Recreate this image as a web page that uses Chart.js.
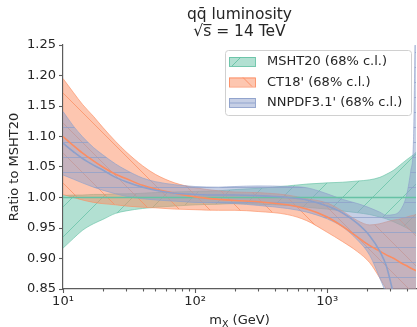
<!DOCTYPE html>
<html>
<head>
<meta charset="utf-8">
<script src="https://cdn.jsdelivr.net/npm/chart.js@4.4.0/dist/chart.umd.min.js"></script>
<style>
    html, body { margin: 0; padding: 0; background: #fff; }
    #wrap { width: 417px; height: 327px; }
</style>
</head>
<body>
<div id="wrap"><canvas id="lumiChart" width="417" height="327"></canvas></div>
<script>
// Invariant mass grid (GeV)
const masses = [10, 12, 14, 17, 20, 25, 30, 40, 50, 70, 100, 150, 200, 300, 500, 700,
    1000, 1300, 1700, 2100, 2500, 2800, 3200, 3600, 4000, 4300, 4500, 4700];

// MSHT20 (reference set)
const mshtCentral = masses.map(() => 1.0);
const mshtUpper = [1.003, 1.004, 1.004, 1.005, 1.005, 1.006, 1.006, 1.007, 1.008, 1.009, 1.010, 1.011, 1.013, 1.015,
    1.019, 1.022, 1.024, 1.025, 1.027, 1.029, 1.033, 1.038, 1.045, 1.054, 1.062, 1.067, 1.070, 1.074];
const mshtLower = [0.917, 0.933, 0.946, 0.957, 0.964, 0.974, 0.978, 0.982, 0.984, 0.986, 0.988, 0.989, 0.990, 0.989,
    0.987, 0.984, 0.981, 0.978, 0.975, 0.972, 0.968, 0.965, 0.960, 0.955, 0.950, 0.946, 0.943, 0.940];

// CT18'
const ct18Central = [1.100, 1.085, 1.073, 1.060, 1.050, 1.038, 1.031, 1.020, 1.014, 1.007, 1.001, 0.997, 0.995, 0.993,
    0.988, 0.981, 0.968, 0.953, 0.935, 0.921, 0.912, 0.906, 0.900, 0.893, 0.888, 0.884, 0.882, 0.880];
const ct18Upper = [1.195, 1.172, 1.153, 1.133, 1.115, 1.092, 1.075, 1.052, 1.038, 1.024, 1.016, 1.011, 1.009, 1.008,
    1.004, 0.998, 0.991, 0.978, 0.962, 0.955, 0.957, 0.960, 0.963, 0.965, 0.968, 0.970, 0.971, 0.972];
const ct18Lower = [1.005, 1.000, 0.996, 0.992, 0.990, 0.988, 0.986, 0.984, 0.983, 0.981, 0.980, 0.979, 0.979, 0.977,
    0.972, 0.962, 0.943, 0.928, 0.911, 0.893, 0.868, 0.850, 0.828, 0.812, 0.800, 0.792, 0.788, 0.785];

// NNPDF3.1'
const nnpdfCentral = [1.089, 1.075, 1.064, 1.053, 1.045, 1.033, 1.026, 1.017, 1.012, 1.007, 1.005, 1.004, 1.004, 1.003,
    1.000, 0.996, 0.986, 0.975, 0.957, 0.937, 0.912, 0.888, 0.838, 0.790, 0.750, 0.720, 0.705, 0.690];
const nnpdfUpper = [1.141, 1.117, 1.100, 1.082, 1.070, 1.055, 1.045, 1.032, 1.026, 1.021, 1.018, 1.017, 1.018, 1.019,
    1.018, 1.016, 1.006, 0.997, 0.990, 0.983, 0.976, 0.971, 0.972, 0.980, 1.005, 1.045, 1.095, 1.400];
const nnpdfLower = [1.037, 1.030, 1.024, 1.017, 1.012, 1.006, 1.002, 0.998, 0.996, 0.994, 0.992, 0.991, 0.990, 0.987,
    0.982, 0.976, 0.965, 0.952, 0.930, 0.905, 0.868, 0.840, 0.790, 0.740, 0.690, 0.650, 0.620, 0.580];

const seriesLabels = ["MSHT20 (68% c.l.)", "CT18' (68% c.l.)", "NNPDF3.1' (68% c.l.)"];
const yTickStep = 0.05;
const supDigits = { 1: '\u00b9', 2: '\u00b2', 3: '\u00b3', 4: '\u2074' };

const FONT = '"DejaVu Sans", sans-serif';
const TEXT = '#262626';
const AXIS = '#5c5c5c';

// Set2 colours
const green = [102, 194, 165];
const orange = [252, 141, 98];
const blue = [141, 160, 203];
const rgba = (c, a) => `rgba(${c[0]}, ${c[1]}, ${c[2]}, ${a})`;

// hatch pattern: translucent fill + hatch lines, like matplotlib hatch
function makeHatch(col, kind) {
    const size = kind === '-' ? 15 : 30;
    const c = document.createElement('canvas');
    c.width = size; c.height = size;
    const g = c.getContext('2d');
    g.fillStyle = rgba(col, 0.5);
    g.fillRect(0, 0, size, size);
    g.strokeStyle = rgba(col, 0.75);
    g.lineWidth = 1;
    g.beginPath();
    if (kind === '/') {
        g.moveTo(0, size); g.lineTo(size, 0);
        g.moveTo(-2, 2); g.lineTo(2, -2);
        g.moveTo(size - 2, size + 2); g.lineTo(size + 2, size - 2);
    } else if (kind === '\\') {
        g.moveTo(0, 0); g.lineTo(size, size);
        g.moveTo(size - 2, -2); g.lineTo(size + 2, 2);
        g.moveTo(-2, size - 2); g.lineTo(2, size + 2);
    } else {
        g.moveTo(0, size / 2); g.lineTo(size, size / 2);
    }
    g.stroke();
    return g.createPattern(c, 'repeat');
}

const pts = (arr) => masses.map((m, i) => ({ x: m, y: arr[i] }));

function bandPair(upper, lower, col, kind, order) {
    const edge = rgba(col, 0.8);
    return [
        {
            data: pts(upper), borderColor: edge, borderWidth: 0.8, pointRadius: 0,
            fill: '+1', backgroundColor: makeHatch(col, kind), order: order,
            cubicInterpolationMode: 'monotone'
        },
        {
            data: pts(lower), borderColor: edge, borderWidth: 0.8, pointRadius: 0,
            fill: false, order: order, cubicInterpolationMode: 'monotone'
        }
    ];
}

function centralLine(vals, col, order) {
    return {
        data: pts(vals), borderColor: rgba(col, 1), borderWidth: 1.6, pointRadius: 0,
        fill: false, order: order, cubicInterpolationMode: 'monotone'
    };
}

const datasets = [
    ...bandPair(mshtUpper, mshtLower, green, '/', 6),
    ...bandPair(ct18Upper, ct18Lower, orange, '\\', 5),
    ...bandPair(nnpdfUpper, nnpdfLower, blue, '-', 4),
    centralLine(mshtCentral, green, 3),
    centralLine(ct18Central, orange, 2),
    centralLine(nnpdfCentral, blue, 1)
];

// title, x tick marks, x label with subscript, legend box
const decorPlugin = {
    id: 'decor',
    afterDraw(chart) {
        const ctx = chart.ctx;
        const area = chart.chartArea;
        const xs = chart.scales.x;
        const cx = (area.left + area.right) / 2;
        ctx.save();

        // title
        ctx.fillStyle = TEXT;
        ctx.textAlign = 'center';
        ctx.textBaseline = 'alphabetic';
        ctx.font = '15.5px ' + FONT;
        ctx.fillText('qq\u0304 luminosity', cx, 19);
        ctx.fillText('\u221as\u0305 = 14 TeV', cx, 36);

        // x tick marks (major / minor)
        ctx.strokeStyle = AXIS;
        ctx.lineWidth = 1.1;
        xs.ticks.forEach(t => {
            const p = Math.floor(Math.log10(t.value) + 1e-9);
            const mant = t.value / Math.pow(10, p);
            if (Math.abs(mant - Math.round(mant)) > 1e-6) return;
            const px = Math.round(xs.getPixelForValue(t.value)) + 0.5;
            const len = Math.round(mant) === 1 ? 4 : 2.5;
            ctx.beginPath();
            ctx.moveTo(px, area.bottom);
            ctx.lineTo(px, area.bottom + len);
            ctx.stroke();
        });

        // x label: m_X (GeV)
        ctx.textAlign = 'left';
        const big = '13px ' + FONT, small = '9.5px ' + FONT;
        ctx.font = big; const wm = ctx.measureText('m').width;
        const wr = ctx.measureText(' (GeV)').width;
        ctx.font = small; const wx = ctx.measureText('X').width;
        let lx = cx - (wm + wx + wr) / 2;
        const by = 324;
        ctx.font = big; ctx.fillText('m', lx, by); lx += wm;
        ctx.font = small; ctx.fillText('X', lx, by + 2.5); lx += wx;
        ctx.font = big; ctx.fillText(' (GeV)', lx, by);

        // legend
        const bx = 225, byy = 50, bw = 186, bh = 65;
        ctx.beginPath();
        ctx.roundRect(bx + 0.5, byy + 0.5, bw, bh, 3);
        ctx.fillStyle = 'rgba(255,255,255,0.8)';
        ctx.fill();
        ctx.strokeStyle = '#d0d0d0';
        ctx.lineWidth = 1;
        ctx.stroke();
        const cols = [green, orange, blue];
        const kinds = ['/', '\\', '-'];
        const rowY = [61.5, 82, 102.5];
        ctx.font = '13px ' + FONT;
        ctx.textBaseline = 'middle';
        seriesLabels.forEach((lab, i) => {
            const px = 229, pw = 26, ph = 9, py = rowY[i] - ph / 2;
            ctx.fillStyle = rgba(cols[i], 0.5);
            ctx.fillRect(px, py, pw, ph);
            ctx.strokeStyle = rgba(cols[i], 0.9);
            ctx.lineWidth = 1;
            ctx.strokeRect(px + 0.5, py + 0.5, pw, ph);
            ctx.beginPath();
            if (kinds[i] === '/') { ctx.moveTo(px + 3, py + ph); ctx.lineTo(px + 12, py); }
            else if (kinds[i] === '\\') { ctx.moveTo(px + 14, py); ctx.lineTo(px + 23, py + ph); }
            else { ctx.moveTo(px, rowY[i] + 0.5); ctx.lineTo(px + pw, rowY[i] + 0.5); }
            ctx.stroke();
            ctx.fillStyle = TEXT;
            ctx.fillText(lab, 267, rowY[i] + 0.5);
        });
        ctx.restore();
    }
};

new Chart(document.getElementById('lumiChart').getContext('2d'), {
    type: 'line',
    data: { datasets: datasets },
    options: {
        responsive: false,
        animation: false,
        layout: { padding: { top: 45, right: 0, bottom: 0, left: 0 } },
        plugins: {
            legend: { display: false },
            tooltip: { enabled: false },
            title: { display: false }
        },
        scales: {
            x: {
                type: 'logarithmic',
                min: 10,
                max: 4700,
                afterFit(scale) { scale.height = 38; },
                ticks: {
                    autoSkip: false,
                    maxRotation: 0,
                    color: TEXT,
                    padding: 1,
                    font: { family: FONT, size: 13 },
                    callback: function(value) {
                        const p = Math.log10(value);
                        if (Math.abs(p - Math.round(p)) < 1e-9) return '10' + supDigits[Math.round(p)];
                        return '';
                    }
                },
                grid: { drawOnChartArea: false, drawTicks: true, tickLength: 4, tickColor: 'rgba(0,0,0,0)' },
                border: { display: true, color: AXIS, width: 1.2 }
            },
            y: {
                min: 0.85,
                max: 1.25,
                afterFit(scale) { scale.width = 63; },
                ticks: {
                    stepSize: yTickStep,
                    color: TEXT,
                    padding: 3,
                    font: { family: FONT, size: 13 },
                    callback: v => Number(v).toFixed(2)
                },
                grid: { drawOnChartArea: false, drawTicks: true, tickLength: 4, tickColor: AXIS, tickWidth: 1.1 },
                border: { display: true, color: AXIS, width: 1.2 },
                title: {
                    display: true,
                    text: 'Ratio to MSHT20',
                    color: TEXT,
                    font: { family: FONT, size: 13 },
                    padding: { top: 7, bottom: 0 }
                }
            }
        }
    },
    plugins: [decorPlugin]
});
</script>
</body>
</html>
